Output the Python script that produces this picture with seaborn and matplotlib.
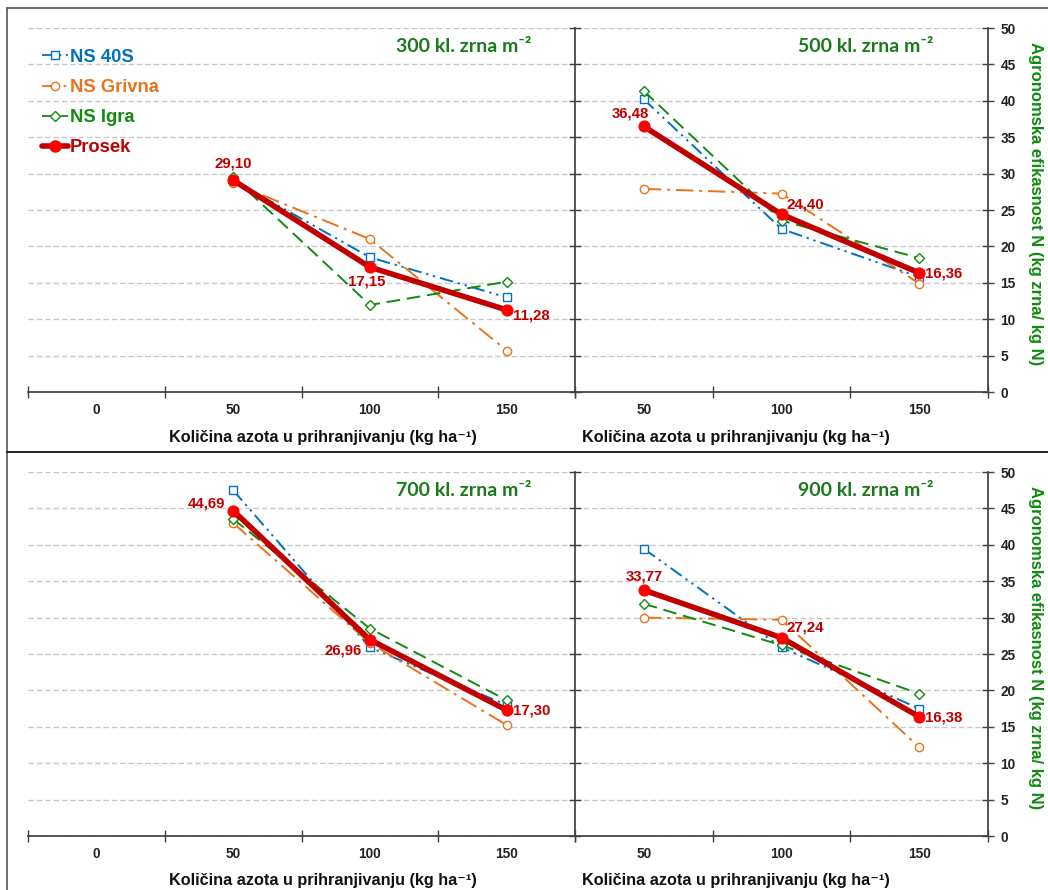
import matplotlib
matplotlib.use("Agg")
import matplotlib.pyplot as plt
import matplotlib.lines as mlines
import seaborn as sns

# kategorije na x osi
cats_left = ["0", "50", "100", "150"]
cats_right = ["50", "100", "150"]
doses = ["50", "100", "150"]

series_names = ["NS 40S", "NS Grivna", "NS Igra", "Prosek"]

# 300 kl. zrna m-2
ns40s_300 = [29.1, 18.5, 13.0]
grivna_300 = [28.7, 21.0, 5.7]
igra_300 = [29.5, 11.95, 15.15]
prosek_300 = [29.10, 17.15, 11.28]

# 500 kl. zrna m-2
ns40s_500 = [40.2, 22.4, 15.8]
grivna_500 = [27.9, 27.25, 14.9]
igra_500 = [41.35, 23.55, 18.4]
prosek_500 = [36.48, 24.40, 16.36]

# 700 kl. zrna m-2
ns40s_700 = [47.5, 25.9, 18.0]
grivna_700 = [43.0, 26.5, 15.25]
igra_700 = [43.55, 28.5, 18.65]
prosek_700 = [44.69, 26.96, 17.30]

# 900 kl. zrna m-2
ns40s_900 = [39.45, 25.9, 17.5]
grivna_900 = [30.0, 29.7, 12.2]
igra_900 = [31.9, 26.2, 19.55]
prosek_900 = [33.77, 27.24, 16.38]

titles = ["300 kl. zrna m\u207b\u00b2", "500 kl. zrna m\u207b\u00b2",
          "700 kl. zrna m\u207b\u00b2", "900 kl. zrna m\u207b\u00b2"]
xlabel = "Količina azota u prihranjivanju (kg ha\u207b\u00b9)"
ylabel = "Agronomska efikasnost N (kg zrna/ kg N)"

colors = ["#0070C0", "#E8731A", "#108A10", "#C00000"]
styles = [(0, (7, 2.5, 1.2, 2.5, 1.2, 2.5)), (0, (9, 3, 1.5, 3)), (0, (7, 3.5)), "-"]
markers = ["s", "o", "D", "o"]

sns.set_theme(style="white")
plt.rcParams["font.family"] = ["Liberation Sans", "DejaVu Sans"]

W, H = 1048, 890
fig = plt.figure(figsize=(W / 100, H / 100), dpi=100)


def fx(x):
    return x / W


def fy(y):
    return 1 - y / H


def fmt(v):
    return f"{v:.2f}".replace(".", ",")


def style_axes(ax, ncat, right_side):
    ax.set_xlim(-0.5, ncat - 0.5)
    ax.set_ylim(0, 50)
    ax.set_yticks(range(0, 51, 5))
    ax.set_xticks(range(ncat))
    ax.set_xticklabels(cats_right if right_side else cats_left)
    ax.set_xticks([i - 0.5 for i in range(ncat + 1)], minor=True)
    ax.tick_params(axis="x", which="major", length=0, pad=8,
                   labelsize=9.8, labelcolor="#222222")
    ax.tick_params(axis="x", which="minor", direction="inout", length=8,
                   width=1, color="#404040", bottom=True)
    for lab in ax.get_xticklabels():
        lab.set_fontweight("bold")
    ax.yaxis.grid(True, linestyle=(0, (4, 2)), color="#c8c8c8", lw=1)
    ax.set_axisbelow(True)
    ax.spines["top"].set_visible(False)
    ax.spines["bottom"].set_color("#404040")
    if right_side:
        ax.tick_params(axis="y", left=True, right=True, labelleft=False,
                       labelright=True, direction="inout", length=8, width=1,
                       color="#404040", labelsize=9.8, labelcolor="#222222", pad=5)
        for lab in ax.get_yticklabels():
            lab.set_fontweight("bold")
        ax.spines["left"].set_color("#404040")
        ax.spines["right"].set_color("#404040")
    else:
        ax.tick_params(axis="y", left=False, labelleft=False)
        ax.spines["left"].set_visible(False)
        ax.spines["right"].set_visible(False)
    ax.set_xlabel("")
    ax.set_ylabel("")


def draw_series(ax, pos, data, offsets):
    for i, vals in enumerate(data):
        if i < 3:
            sns.lineplot(x=pos, y=vals, ax=ax, color=colors[i], linestyle=styles[i],
                         linewidth=1.4, marker=markers[i],
                         markersize=6 if markers[i] != "D" else 5,
                         markerfacecolor="white", markeredgecolor=colors[i],
                         markeredgewidth=1, legend=False, zorder=3)
        else:
            sns.lineplot(x=pos, y=vals, ax=ax, color=colors[3], linewidth=4,
                         marker="o", markersize=8, markerfacecolor="#FF0000",
                         markeredgecolor="#FF0000", legend=False, zorder=4)
            for x, v, (dx, dy, ha, va) in zip(pos, vals, offsets):
                ax.annotate(fmt(v), (x, v), xytext=(dx, dy), textcoords="offset pixels",
                            ha=ha, va=va, color="#C00000", fontsize=10.8,
                            fontweight="bold", zorder=5)


rows = [
    (28, 392, [ns40s_300, grivna_300, igra_300, prosek_300],
     [ns40s_500, grivna_500, igra_500, prosek_500],
     [(0, 10, "center", "bottom"), (-3, -7, "center", "top"), (6, -6, "left", "center")],
     [(-13, 6, "center", "bottom"), (5, 3, "left", "bottom"), (6, -1, "left", "center")]),
    (472, 836, [ns40s_700, grivna_700, igra_700, prosek_700],
     [ns40s_900, grivna_900, igra_900, prosek_900],
     [(-8, 7, "right", "center"), (-8, -11, "right", "center"), (6, 0, "left", "center")],
     [(0, 7, "center", "bottom"), (5, 3, "left", "bottom"), (6, -1, "left", "center")]),
]

left_axes = []
for r, (ytop, ybot, data_l, data_r, off_l, off_r) in enumerate(rows):
    ax_l = fig.add_axes([fx(28), fy(ybot), fx(575) - fx(28), (ybot - ytop) / H])
    ax_r = fig.add_axes([fx(575), fy(ybot), fx(988) - fx(575), (ybot - ytop) / H])
    pos_l = [cats_left.index(d) for d in doses]
    pos_r = [cats_right.index(d) for d in doses]
    draw_series(ax_l, pos_l, data_l, off_l)
    draw_series(ax_r, pos_r, data_r, off_r)
    style_axes(ax_l, len(cats_left), False)
    style_axes(ax_r, len(cats_right), True)
    left_axes.append(ax_l)

    # naslovi panela
    fig.text(fx(531), fy(ytop + 19), titles[2 * r], ha="right", va="center",
             color="#1A7A1A", fontsize=14, fontweight="bold",
             family=["Lato", "DejaVu Sans"])
    fig.text(fx(934), fy(ytop + 19), titles[2 * r + 1], ha="right", va="center",
             color="#1A7A1A", fontsize=14, fontweight="bold",
             family=["Lato", "DejaVu Sans"])

    # nazivi osa
    fig.text(fx(323), fy(ybot + 45), xlabel, ha="center", va="center",
             fontsize=11.7, fontweight="bold", color="#111111")
    fig.text(fx(736), fy(ybot + 45), xlabel, ha="center", va="center",
             fontsize=11.7, fontweight="bold", color="#111111")
    fig.text(fx(1035), fy((ytop + ybot) / 2 - 6), ylabel, ha="center", va="center",
             rotation=270, fontsize=12, fontweight="bold", color="#108A10")

# legenda
handles = []
for i in range(4):
    if i < 3:
        handles.append(mlines.Line2D([], [], color=colors[i], linestyle=styles[i], lw=1.3,
                                     marker=markers[i], markersize=6 if markers[i] != "D" else 5,
                                     markerfacecolor="white", markeredgecolor=colors[i],
                                     markeredgewidth=1))
    else:
        handles.append(mlines.Line2D([], [], color=colors[3], lw=4, marker="o",
                                     markersize=8, markerfacecolor="#FF0000",
                                     markeredgecolor="#FF0000"))
leg = left_axes[0].legend(handles, series_names, loc="upper left",
                          bbox_to_anchor=(-0.005, 0.988), frameon=False,
                          prop={"weight": "bold", "size": 13.2},
                          handlelength=1.45, handletextpad=0.1, labelspacing=0.72)
for t, c in zip(leg.get_texts(), colors):
    t.set_color(c)

# okviri grafikona
fig.add_artist(mlines.Line2D([fx(7), fx(7)], [fy(8), 0], transform=fig.transFigure,
                             color="#555555", lw=1.2))
fig.add_artist(mlines.Line2D([fx(7), 1], [fy(8), fy(8)], transform=fig.transFigure,
                             color="#555555", lw=1.2))
fig.add_artist(mlines.Line2D([fx(7), 1], [fy(452), fy(452)], transform=fig.transFigure,
                             color="#000000", lw=1.2))

fig.savefig("out.png", dpi=100)
